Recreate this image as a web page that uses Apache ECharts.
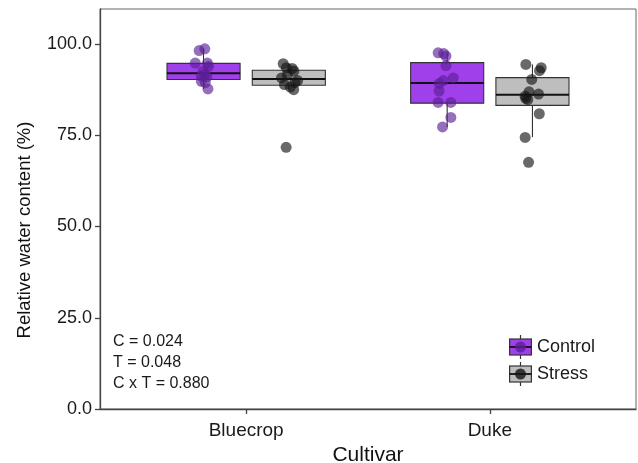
<!DOCTYPE html>
<html>
<head>
<meta charset="utf-8">
<script src="https://cdn.jsdelivr.net/npm/echarts@6/dist/echarts.min.js"></script>
<style>html,body{margin:0;padding:0;background:#fff}#chart{width:638px;height:463px}</style>
</head>
<body>
<div id="chart"></div>
<script>
// ---- data ----
const cultivars = ['Bluecrop', 'Duke'];
const treatments = ['Control', 'Stress'];
const yTicks = [0, 25, 50, 75, 100];
const statsText = ['C = 0.024', 'T = 0.048', 'C x T = 0.880'];

// box stats per cultivar: [lower whisker, Q1, median, Q3, upper whisker]
const boxControl = [[87.7, 90.3, 92.0, 94.7, 98.7], [77.3, 83.8, 89.3, 94.9, 97.6]];
const boxStress  = [[87.5, 88.7, 90.4, 92.8, 94.6], [74.5, 83.2, 86.1, 90.8, 94.4]];

// individual observations (n = 12) and their horizontal jitter
const bluecropControl = [98.2, 98.7, 94.8, 94.8, 93.9, 92.5, 91.6, 91.2, 91.0, 89.8, 89.4, 87.7];
const bluecropControlJitter = [-0.018, 0.005, -0.034, 0.016, 0.021, -0.002, 0.007, -0.009, 0.014, -0.009, 0.007, 0.018];
const bluecropStress = [71.7, 87.5, 88.2, 88.9, 89.4, 90.0, 90.7, 91.5, 92.6, 93.3, 93.5, 94.6];
const bluecropStressJitter = [-0.011, 0.020, 0.006, -0.018, 0.025, 0.036, -0.030, -0.006, 0.021, 0.014, -0.010, -0.023];
const dukeControl = [97.6, 97.4, 96.7, 94.1, 90.7, 90.0, 89.2, 87.1, 84.0, 84.0, 79.9, 77.3];
const dukeControlJitter = [-0.037, -0.014, -0.005, -0.005, 0.025, -0.016, -0.033, -0.033, -0.037, 0.015, 0.015, -0.019];
const dukeStress = [94.4, 93.5, 92.7, 90.3, 86.9, 86.3, 85.7, 84.8, 85.1, 80.9, 74.4, 67.6];
const dukeStressJitter = [-0.027, 0.036, 0.029, -0.003, -0.014, 0.025, -0.030, -0.019, -0.027, 0.028, -0.030, -0.016];

// ---- styling / layout ----
const FONT = 'Liberation Sans, Arial, sans-serif';
const DODGE = 0.175;
const BOX_W = 0.30;
const colors = {
  Control: { fill: '#A040EA', point: 'rgba(90,30,150,0.8)' },
  Stress:  { fill: '#BEBEBE', point: 'rgba(20,20,20,0.8)' }
};

function boxData(stats, offset) {
  return stats.map((s, i) => [i + 1 + offset].concat(s));
}
function pointData(vals, jit, catIdx, offset) {
  return vals.map((v, i) => [catIdx + 1 + offset + jit[i], v]);
}

function renderBox(fill) {
  return function (params, api) {
    const x = api.value(0);
    const half = api.size([BOX_W, 0])[0] / 2;
    const pMin = api.coord([x, api.value(1)]);
    const pQ1 = api.coord([x, api.value(2)]);
    const pMed = api.coord([x, api.value(3)]);
    const pQ3 = api.coord([x, api.value(4)]);
    const pMax = api.coord([x, api.value(5)]);
    const lineStyle = { stroke: '#333', lineWidth: 1.1 };
    return {
      type: 'group',
      children: [
        { type: 'line', shape: { x1: pMax[0], y1: pMax[1], x2: pQ3[0], y2: pQ3[1] }, style: lineStyle },
        { type: 'line', shape: { x1: pQ1[0], y1: pQ1[1], x2: pMin[0], y2: pMin[1] }, style: lineStyle },
        { type: 'rect', shape: { x: pQ3[0] - half, y: pQ3[1], width: half * 2, height: pQ1[1] - pQ3[1] },
          style: { fill: fill, stroke: '#333', lineWidth: 1.1 } },
        { type: 'line', shape: { x1: pMed[0] - half, y1: pMed[1], x2: pMed[0] + half, y2: pMed[1] },
          style: { stroke: '#111', lineWidth: 2 } }
      ]
    };
  };
}

function legendIcon(fill, point) {
  const svg = "<svg xmlns='http://www.w3.org/2000/svg' width='23' height='24'>" +
    "<line x1='11.5' y1='0' x2='11.5' y2='24' stroke='#333' stroke-width='1.2'/>" +
    "<rect x='0.6' y='4' width='21.8' height='16' fill='" + fill + "' stroke='#333' stroke-width='1.2'/>" +
    "<line x1='0.6' y1='12' x2='22.4' y2='12' stroke='#111' stroke-width='1.8'/>" +
    "<circle cx='11.5' cy='12' r='5.5' fill='" + point + "'/></svg>";
  return 'image://data:image/svg+xml;charset=utf-8,' + encodeURIComponent(svg);
}

const chart = echarts.init(document.getElementById('chart'), null, { renderer: 'canvas' });

const option = {
  animation: false,
  textStyle: { fontFamily: FONT },
  grid: { left: 100, right: 2, top: 9, bottom: 54, show: true, borderColor: '#666', borderWidth: 1,
          containLabel: false, outerBoundsMode: 'none' },
  xAxis: {
    type: 'value', min: 0.4, max: 2.6,
    name: 'Cultivar', nameLocation: 'middle', nameGap: 34,
    nameTextStyle: { fontSize: 21, color: '#111', fontFamily: FONT },
    axisLine: { show: true, lineStyle: { color: '#444', width: 1.3 } },
    axisTick: { show: true, customValues: [1, 2], length: 5, lineStyle: { color: '#444', width: 1.3 } },
    axisLabel: { customValues: [1, 2], formatter: v => cultivars[Math.round(v) - 1], fontSize: 19, color: '#1a1a1a', margin: 12, fontFamily: FONT },
    splitLine: { show: false }
  },
  yAxis: {
    type: 'value', min: 0, max: 109.6, interval: 25,
    name: 'Relative water content (%)', nameLocation: 'middle', nameGap: 66,
    nameTextStyle: { fontSize: 18.5, color: '#111', fontFamily: FONT, padding: [0, 42, 0, 0] },
    axisLine: { show: true, lineStyle: { color: '#444', width: 1.3 } },
    axisTick: { show: true, customValues: yTicks, length: 5, lineStyle: { color: '#444', width: 1.3 } },
    axisLabel: { customValues: yTicks, formatter: v => v.toFixed(1), fontSize: 18, color: '#1a1a1a', margin: 8, fontFamily: FONT },
    splitLine: { show: false }
  },
  legend: {
    orient: 'vertical', left: 509, top: 335, padding: 0,
    itemWidth: 23, itemHeight: 24, itemGap: 3,
    textStyle: { fontSize: 18, color: '#1a1a1a', fontFamily: FONT },
    data: [
      { name: treatments[0], icon: legendIcon(colors.Control.fill, colors.Control.point) },
      { name: treatments[1], icon: legendIcon(colors.Stress.fill, colors.Stress.point) }
    ]
  },
  graphic: statsText.map((t, i) => ({
    type: 'text', x: 113, y: 342 + i * 21,
    style: { text: t, fontSize: 16, fill: '#1a1a1a', font: '16px ' + FONT, verticalAlign: 'middle' }
  })),
  series: [
    { name: treatments[0], type: 'custom', renderItem: renderBox(colors.Control.fill),
      data: boxData(boxControl, -DODGE), itemStyle: { color: colors.Control.fill }, z: 2 },
    { name: treatments[1], type: 'custom', renderItem: renderBox(colors.Stress.fill),
      data: boxData(boxStress, DODGE), itemStyle: { color: colors.Stress.fill }, z: 2 },
    { name: treatments[0], type: 'scatter', symbolSize: 11, z: 3,
      itemStyle: { color: colors.Control.point },
      data: pointData(bluecropControl, bluecropControlJitter, 0, -DODGE)
        .concat(pointData(dukeControl, dukeControlJitter, 1, -DODGE)) },
    { name: treatments[1], type: 'scatter', symbolSize: 11, z: 3,
      itemStyle: { color: colors.Stress.point },
      data: pointData(bluecropStress, bluecropStressJitter, 0, DODGE)
        .concat(pointData(dukeStress, dukeStressJitter, 1, DODGE)) }
  ]
};
chart.setOption(option);
</script>
</body>
</html>
